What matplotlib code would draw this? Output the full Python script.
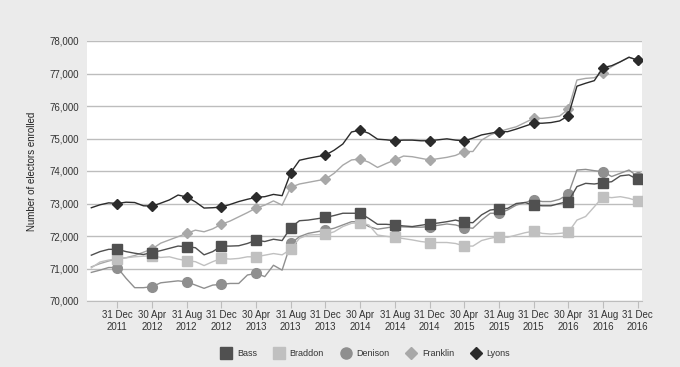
import pandas as pd
import matplotlib
matplotlib.use("Agg")
import matplotlib.pyplot as plt
from matplotlib.lines import Line2D
from matplotlib.ticker import FuncFormatter

plt.rcParams['font.family'] = ['Liberation Sans', 'DejaVu Sans']

# monthly enrolment, Sep 2011 .. Dec 2016
months = pd.date_range("2011-09-30", periods=64, freq="ME")

bass = [71410, 71520, 71590, 71590, 71520, 71470, 71430, 71490, 71550, 71620,
        71690, 71670, 71640, 71420, 71520, 71690, 71690, 71700, 71770, 71870,
        71830, 71900, 71860, 72260, 72470, 72490, 72530, 72570, 72630, 72700,
        72700, 72700, 72540, 72360, 72360, 72340, 72310, 72290, 72330, 72370,
        72400, 72440, 72490, 72420, 72410, 72650, 72800, 72830, 72850, 73000,
        73030, 72950, 72930, 72930, 73000, 73060, 73520, 73620, 73600, 73640,
        73670, 73850, 73880, 73740]
braddon = [71020, 71200, 71260, 71290, 71330, 71360, 71380, 71390, 71340, 71360,
           71290, 71240, 71210, 71090, 71210, 71310, 71290, 71310, 71360, 71360,
           71410, 71460, 71420, 71590, 71930, 72030, 72040, 72050, 72130, 72290,
           72390, 72410, 72340, 72030, 71990, 71960, 71920, 71880, 71830, 71800,
           71800, 71800, 71770, 71690, 71690, 71860, 71930, 71980, 71960, 72030,
           72100, 72150, 72080, 72060, 72080, 72110, 72490, 72600, 72900, 73210,
           73180, 73210, 73160, 73080]
denison = [70880, 70950, 71030, 71030, 70700, 70410, 70410, 70440, 70560, 70590,
           70620, 70590, 70490, 70390, 70490, 70510, 70540, 70540, 70800, 70850,
           70750, 71100, 70950, 71770, 71980, 72080, 72130, 72180, 72240, 72340,
           72440, 72440, 72290, 72210, 72250, 72290, 72280, 72270, 72270, 72290,
           72330, 72370, 72340, 72260, 72240, 72490, 72700, 72700, 72800, 72950,
           73030, 73110, 73060, 73060, 73130, 73290, 74030, 74050, 74010, 73980,
           73830, 73930, 74030, 73830]
franklin = [71050, 71150, 71230, 71300, 71330, 71400, 71500, 71600, 71780, 71880,
            71980, 72080, 72180, 72130, 72220, 72360, 72460, 72590, 72720, 72860,
            72950, 73080, 72950, 73500, 73600, 73650, 73700, 73750, 73930, 74180,
            74340, 74370, 74270, 74110, 74230, 74340, 74460, 74440, 74390, 74340,
            74380, 74420, 74480, 74600, 74600, 74950, 75110, 75210, 75290, 75360,
            75490, 75620, 75620, 75650, 75690, 75900, 76800, 76850, 76870, 77030,
            77210, 77360, 77500, 77410]
lyons = [72870, 72960, 73020, 73000, 73040, 73030, 72930, 72920, 73010, 73110,
         73260, 73200, 73050, 72860, 72870, 72890, 72970, 73060, 73130, 73190,
         73210, 73280, 73240, 73950, 74330, 74390, 74440, 74490, 74640, 74830,
         75200, 75260, 75160, 74980, 74960, 74930, 74950, 74950, 74930, 74930,
         74960, 74990, 74950, 74930, 75010, 75110, 75160, 75210, 75210, 75290,
         75380, 75470, 75470, 75490, 75540, 75700, 76610, 76700, 76780, 77180,
         77240, 77360, 77500, 77410]

names = ["Bass", "Braddon", "Denison", "Franklin", "Lyons"]
series = [bass, braddon, denison, franklin, lyons]
colors = ["#505050", "#c0c0c0", "#8f8f8f", "#a8a8a8", "#2b2b2b"]
markers = ["s", "s", "o", "D", "D"]
msizes = [7, 7, 7, 5.5, 5.5]
zorders = [4, 3.5, 3, 3, 5]

df = pd.DataFrame(dict(zip(names, series)), index=months)
x = range(len(df))

fig = plt.figure(figsize=(6.8, 3.67), dpi=100, facecolor="#ebebeb")
ax = fig.add_axes([87 / 680, 1 - 301 / 367, 555 / 680, 260 / 367])
ax.set_facecolor("white")

for name, c, mk, ms, z in zip(names, colors, markers, msizes, zorders):
    ax.plot(x, df[name], color=c, lw=1, marker=mk, ms=ms, mec=c, mfc=c,
            markevery=slice(3, None, 4), zorder=z)

ax.set_xlim(-0.5, len(df) - 0.5)
ax.set_ylim(70000, 78000)
ax.set_yticks(range(70000, 78001, 1000))
ax.yaxis.set_major_formatter(FuncFormatter(lambda v, p: f"{int(v):,}"))
ticks = list(range(3, len(df), 4))
ax.set_xticks(ticks)
ax.set_xticklabels([months[i].strftime("%d %b\n%Y") for i in ticks])
ax.grid(axis="y", color="#bdbdbd", lw=1)
ax.set_axisbelow(True)
for s in ["top", "right", "left"]:
    ax.spines[s].set_visible(False)
ax.spines["bottom"].set_color("#bdbdbd")
ax.tick_params(axis="y", length=0, pad=6, labelsize=7, labelcolor="#333333")
ax.tick_params(axis="x", length=5, color="#bdbdbd", pad=1.5, labelsize=7,
               labelcolor="#333333")
ax.set_ylabel("Number of electors enrolled", fontsize=7, color="#222222", labelpad=9)

handles = [Line2D([], [], ls="none", marker=mk, color=c, ms=ms + 1)
           for c, mk, ms in zip(colors, markers, msizes)]
fig.legend(handles, names, loc="center", bbox_to_anchor=(0.535, 1 - 354 / 367),
           ncol=5, frameon=False, fontsize=6.5, handletextpad=0.2,
           columnspacing=1.4, labelcolor="#333333")

fig.savefig("out.png", dpi=100, facecolor=fig.get_facecolor())
